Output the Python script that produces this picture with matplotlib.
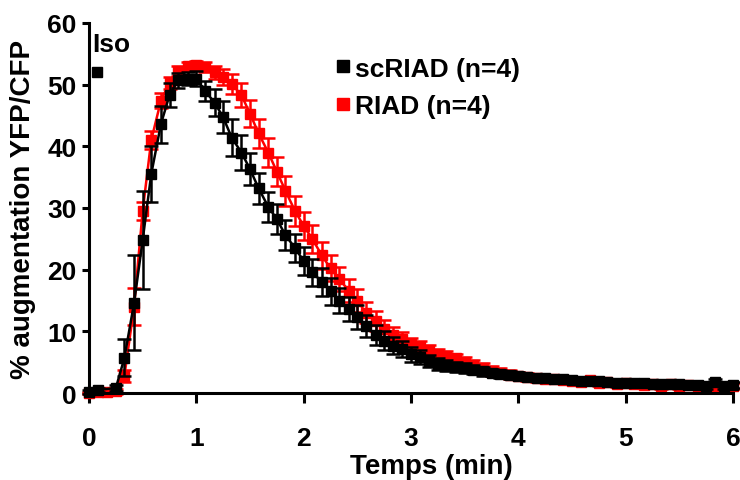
import matplotlib
matplotlib.use('Agg')
import matplotlib.pyplot as plt
from matplotlib.lines import Line2D

plt.rcParams['font.family'] = ['Liberation Sans', 'DejaVu Sans']
plt.rcParams['font.weight'] = 'bold'

# ---------------- data ----------------
time_sc = [0.0, 0.08, 0.25, 0.33, 0.42, 0.5, 0.58, 0.67, 0.75, 0.83, 0.92, 1.0,
           1.08, 1.17, 1.25, 1.33, 1.42, 1.5, 1.58, 1.67, 1.75, 1.83, 1.92, 2.0,
           2.08, 2.17, 2.25, 2.33, 2.42, 2.5, 2.58, 2.67, 2.75, 2.83, 2.92, 3.0,
           3.08, 3.17, 3.25, 3.33, 3.42, 3.5, 3.58, 3.67, 3.75, 3.83, 3.92, 4.0,
           4.08, 4.17, 4.25, 4.33, 4.42, 4.5, 4.58, 4.67, 4.75, 4.83, 4.92, 5.0,
           5.08, 5.17, 5.25, 5.33, 5.42, 5.5, 5.58, 5.67, 5.75, 5.83, 5.92, 6.0]
sc_mean = [0.2, 0.5, 0.8, 5.7, 14.6, 24.8, 35.5, 43.6, 48.3, 50.7, 51.0, 51.0,
           49.0, 47.1, 44.7, 41.4, 39.0, 36.3, 33.2, 30.2, 28.2, 25.6, 23.5, 21.4,
           19.6, 18.0, 16.5, 15.0, 13.6, 12.3, 10.9, 9.4, 8.5, 7.7, 7.1, 6.3,
           5.8, 5.2, 4.7, 4.4, 4.2, 4.0, 3.8, 3.5, 3.3, 3.1, 2.9, 2.8,
           2.6, 2.5, 2.4, 2.3, 2.2, 2.1, 2.0, 1.9, 1.9, 1.8, 1.7, 1.7,
           1.6, 1.6, 1.5, 1.5, 1.4, 1.4, 1.3, 1.3, 1.2, 1.8, 1.1, 1.3]
sc_sem = [0.3, 0.3, 0.5, 3.0, 7.7, 8.0, 4.5, 3.0, 2.0, 1.2, 1.0, 1.2,
          1.6, 2.2, 2.6, 3.0, 2.8, 2.6, 2.5, 2.4, 2.4, 2.4, 2.3, 2.3,
          2.2, 2.2, 2.2, 2.1, 2.0, 1.9, 1.8, 1.6, 1.5, 1.4, 1.3, 1.2,
          1.1, 1.0, 0.9, 0.9, 0.8, 0.8, 0.7, 0.7, 0.6, 0.6, 0.6, 0.6,
          0.5, 0.5, 0.5, 0.5, 0.5, 0.5, 0.5, 0.5, 0.5, 0.5, 0.5, 0.5,
          0.5, 0.5, 0.5, 0.5, 0.5, 0.5, 0.5, 0.5, 0.5, 0.5, 0.5, 0.5]

time_riad = [0.0, 0.08, 0.17, 0.25, 0.33, 0.42, 0.5, 0.58, 0.67, 0.75, 0.83, 0.92, 1.0,
             1.08, 1.17, 1.25, 1.33, 1.42, 1.5, 1.58, 1.67, 1.75, 1.83, 1.92, 2.0,
             2.08, 2.17, 2.25, 2.33, 2.42, 2.5, 2.58, 2.67, 2.75, 2.83, 2.92, 3.0,
             3.08, 3.17, 3.25, 3.33, 3.42, 3.5, 3.58, 3.67, 3.75, 3.83, 3.92, 4.0,
             4.08, 4.17, 4.25, 4.33, 4.42, 4.5, 4.58, 4.67, 4.75, 4.83, 4.92, 5.0,
             5.08, 5.17, 5.25, 5.33, 5.42, 5.5, 5.58, 5.67, 5.75, 5.83, 5.92, 6.0]
riad_mean = [0.0, 0.1, 0.2, 0.3, 2.8, 14.0, 29.5, 41.0, 47.4, 50.3, 52.2, 53.0, 53.2,
             52.8, 52.0, 51.3, 50.1, 48.3, 45.3, 42.1, 39.0, 35.9, 32.8, 29.5, 27.1,
             25.0, 22.3, 20.2, 18.5, 16.6, 15.0, 13.0, 11.7, 10.4, 9.4, 8.7, 7.9,
             7.4, 6.9, 6.3, 6.0, 5.6, 5.0, 4.5, 4.0, 3.6, 3.3, 3.0, 2.8,
             2.6, 2.4, 2.3, 2.2, 2.1, 2.0, 1.8, 2.1, 1.6, 1.8, 1.5, 1.7,
             1.4, 1.3, 1.5, 1.2, 1.4, 1.2, 1.3, 1.1, 1.0, 1.2, 1.0, 1.2]
riad_sem = [0.2, 0.2, 0.3, 0.4, 1.0, 3.0, 1.5, 1.5, 1.2, 1.0, 0.8, 0.7, 0.6,
            0.8, 1.0, 1.3, 1.6, 2.0, 2.2, 2.4, 2.4, 2.4, 2.4, 2.4, 2.3,
            2.3, 2.2, 2.1, 2.0, 1.9, 1.8, 1.7, 1.6, 1.5, 1.3, 1.2, 1.1,
            1.0, 0.9, 0.9, 0.8, 0.8, 0.8, 0.8, 0.8, 0.8, 0.7, 0.7, 0.6,
            0.6, 0.6, 0.5, 0.5, 0.5, 0.5, 0.5, 0.5, 0.5, 0.5, 0.5, 0.5,
            0.5, 0.5, 0.5, 0.5, 0.5, 0.5, 0.5, 0.5, 0.5, 0.5, 0.5, 0.5]

iso_time = 0.075
iso_level = 52
x_ticks = [0, 1, 2, 3, 4, 5, 6]
y_ticks = [0, 10, 20, 30, 40, 50, 60]
labels = ['scRIAD (n=4)', 'RIAD (n=4)']

# ---------------- figure ----------------
fig = plt.figure(figsize=(7.4, 4.81), dpi=100)
ax = fig.add_axes([89 / 740, 1 - 394 / 481, 644 / 740, 370 / 481])

red = '#ff0000'
eb_r = ax.errorbar(time_riad, riad_mean, yerr=riad_sem, fmt='-s', color=red,
                   ms=7, lw=1.8, elinewidth=1.8, capsize=4.8, capthick=1.8, zorder=2)
eb_k = ax.errorbar(time_sc, sc_mean, yerr=sc_sem, fmt='-s', color='black',
                   ms=7, lw=1.8, elinewidth=1.8, capsize=4.8, capthick=1.8, zorder=3)
for eb in (eb_r, eb_k):
    for art in eb.get_children():
        art.set_clip_on(False)

# Iso marker
ax.plot([iso_time], [iso_level], 's', color='black', ms=7.5, clip_on=False)
ax.text(0.03, 55.5, 'Iso', fontsize=19, fontweight='bold', ha='left', va='baseline')

ax.set_xlim(0, 6)
ax.set_ylim(0, 60)
ax.set_xticks(x_ticks)
ax.set_yticks(y_ticks)
ax.tick_params(axis='x', direction='out', length=7, width=2.2, pad=17, labelsize=19)
ax.tick_params(axis='y', direction='out', length=5, width=2.2, pad=4, labelsize=19)
for lab in ax.get_xticklabels() + ax.get_yticklabels():
    lab.set_fontweight('bold')

for s in ('top', 'right'):
    ax.spines[s].set_visible(False)
for s in ('left', 'bottom'):
    ax.spines[s].set_linewidth(2.2)

ax.set_xlabel('Temps (min)', fontsize=20, fontweight='bold')
ax.xaxis.set_label_coords(0.531, -0.163)
ax.set_ylabel('% augmentation YFP/CFP', fontsize=20, fontweight='bold')
ax.yaxis.set_label_coords(-0.082, 0.5)

handles = [Line2D([], [], marker='s', ls='none', color='black', ms=8),
           Line2D([], [], marker='s', ls='none', color=red, ms=8)]
ax.legend(handles, labels, loc='upper left', bbox_to_anchor=(0.362, 0.945),
          frameon=False, borderpad=0, handlelength=0.55, handletextpad=0.2,
          labelspacing=0.5, prop={'size': 19, 'weight': 'bold'})

fig.savefig('out.png', dpi=100)
